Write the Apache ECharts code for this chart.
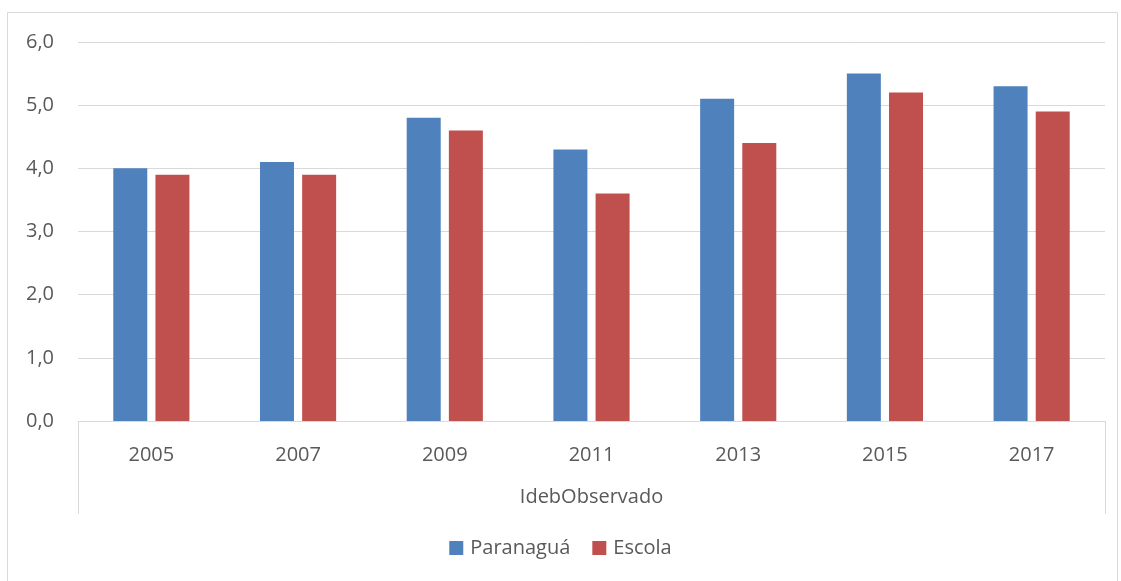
<!DOCTYPE html>
<html>
<head>
<meta charset="utf-8">
<script src="https://cdn.jsdelivr.net/npm/echarts@6/dist/echarts.min.js"></script>
<style>
  html, body { margin: 0; padding: 0; background: #fff; }
  #chart { width: 1121px; height: 581px; }
</style>
</head>
<body>
<div id="chart"></div>
<script>
// dados
var anos = ["2005", "2007", "2009", "2011", "2013", "2015", "2017"];
var paranagua = [4.0, 4.1, 4.8, 4.3, 5.1, 5.5, 5.3];
var escola = [3.9, 3.9, 4.6, 3.6, 4.4, 5.2, 4.9];
var grupo = ["IdebObservado"];

var fonte = "'Open Sans', 'Liberation Sans', sans-serif";
var corTexto = "#595959";

var chart = echarts.init(document.getElementById("chart"));
chart.setOption({
  animation: false,
  textStyle: { fontFamily: fonte },
  graphic: [
    {
      // borda externa
      type: "rect",
      shape: { x: 7.5, y: 12.5, width: 1110, height: 580 },
      style: { fill: "none", stroke: "#d9d9d9", lineWidth: 1 },
      silent: true
    }
  ],
  legend: {
    bottom: 18,
    left: "center",
    itemWidth: 14,
    itemHeight: 14,
    itemGap: 22,
    icon: "rect",
    textStyle: { fontSize: 20, color: corTexto, fontFamily: fonte, padding: [0, 0, 0, 2] },
    data: ["Paranaguá", "Escola"]
  },
  grid: { left: 78, right: 16, top: 42, bottom: 160 },
  xAxis: [
    {
      type: "category",
      data: anos,
      axisLine: { lineStyle: { color: "#d9d9d9", width: 1 } },
      axisTick: { show: false },
      axisLabel: { color: corTexto, fontSize: 20, margin: 24, fontFamily: fonte }
    },
    {
      type: "category",
      data: grupo,
      position: "bottom",
      axisLine: { show: false },
      axisTick: { show: true, length: 93, lineStyle: { color: "#d9d9d9", width: 1 } },
      axisLabel: { color: corTexto, fontSize: 20, margin: 66, fontFamily: fonte },
      splitLine: { show: false }
    }
  ],
  yAxis: {
    type: "value",
    min: 0,
    max: 6,
    interval: 1,
    axisLine: { show: false },
    axisTick: { show: false },
    splitLine: { lineStyle: { color: "#d9d9d9", width: 1 } },
    axisLabel: {
      color: corTexto,
      fontSize: 20,
      margin: 24,
      fontFamily: fonte,
      formatter: function (v) { return v.toFixed(1).replace(".", ","); }
    }
  },
  series: [
    {
      name: "Paranaguá",
      type: "bar",
      data: paranagua,
      barWidth: 34,
      barGap: "24%",
      itemStyle: { color: "#4F81BD" }
    },
    {
      name: "Escola",
      type: "bar",
      data: escola,
      barWidth: 34,
      itemStyle: { color: "#C0504D" }
    }
  ]
});
</script>
</body>
</html>
